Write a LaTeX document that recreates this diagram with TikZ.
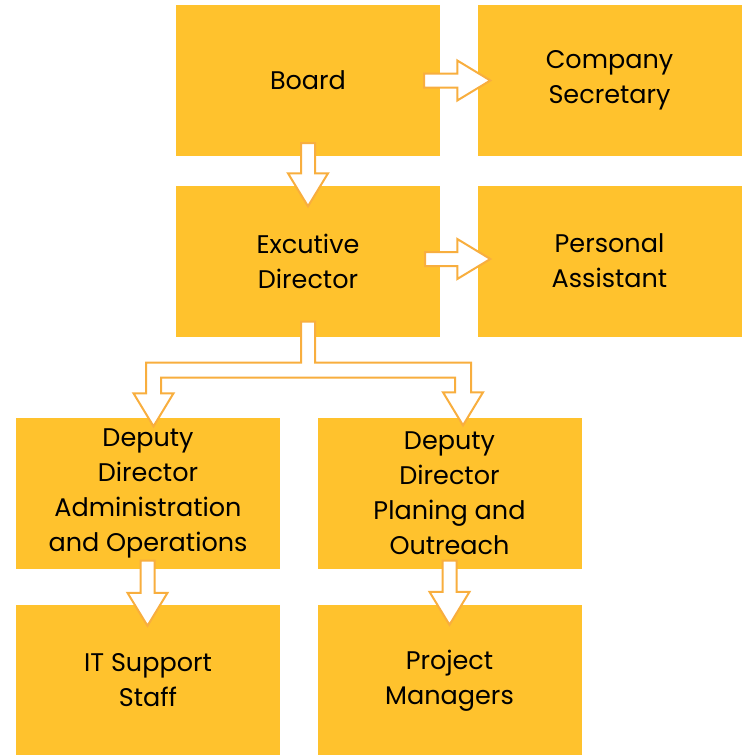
\documentclass[tikz,border=0pt]{standalone}
\usepackage{fontspec}
\setmainfont{Poppins}
\usetikzlibrary{calc}
\definecolor{boxfill}{HTML}{FFC22D}
\definecolor{arrowline}{HTML}{F8AE3E}
\tikzset{
  orgbox/.style={draw=none, fill=boxfill, minimum width=264pt, minimum height=151pt,
    inner sep=0pt, align=center, font=\fontsize{25.5}{35}\selectfont, text=black},
  blockarrowstyle/.style={draw=arrowline, fill=white, line width=2pt, line join=miter},
}
% straight block arrow between two points: shaft 14pt wide, head 40pt wide, 33pt long
\newcommand\blockarrow[2]{%
  \path[blockarrowstyle] let \p1=(#1), \p2=(#2),
    \n1={atan2(\y2-\y1,\x2-\x1)}, \n2={veclen(\x2-\x1,\y2-\y1)} in
    [shift={(\p1)}, rotate=\n1]
    (0pt,7pt) -- ({\n2-33},7pt) -- ({\n2-33},20pt) -- (\n2,0pt) --
    ({\n2-33},-20pt) -- ({\n2-33},-7pt) -- (0pt,-7pt) -- cycle;
}
\begin{document}
\begin{tikzpicture}[x=1pt, y=-1pt]
\useasboundingbox (0,0) rectangle (746,755);

% boxes
\node[orgbox] (board) at (308,80.5)   {Board};
\node[orgbox] (cs)    at (609.5,80.5) {Company\\Secretary};
\node[orgbox] (ed)    at (308,261)    {Excutive\\Director};
\node[orgbox] (pa)    at (609.5,261)  {Personal\\Assistant};
\node[orgbox] (dda)   at (148,493)    {Deputy\\Director\\Administration\\and Operations};
\node[orgbox] (ddp)   at (449.5,493)  {Deputy\\Director\\Planing and\\Outreach};
\node[orgbox] (it)    at (148,680.5)  {IT Support\\Staff};
\node[orgbox] (pm)    at (449.5,680.5){Project\\Managers};

% arrow end points
\coordinate (bcs0) at ([xshift=-16pt]board.east);
\coordinate (bcs1) at ([xshift=13pt]cs.west);
\coordinate (bed0) at ([yshift=13pt]board.south);
\coordinate (bed1) at ([yshift=-21pt]ed.north);
\coordinate (epa0) at ([xshift=-15pt,yshift=2pt]ed.east);
\coordinate (epa1) at ([xshift=13pt,yshift=2pt]pa.west);
\coordinate (dit0) at ([xshift=-0.5pt,yshift=8pt]dda.south);
\coordinate (dit1) at ([xshift=-0.5pt,yshift=-21pt]it.north);
\coordinate (dpm0) at ([yshift=8pt]ddp.south);
\coordinate (dpm1) at ([yshift=-20pt]pm.north);

\blockarrow{bcs0}{bcs1}
\blockarrow{bed0}{bed1}
\blockarrow{epa0}{epa1}
\blockarrow{dit0}{dit1}
\blockarrow{dpm0}{dpm1}

% split arrow from the director to both deputies
\path[blockarrowstyle] let \p0=([yshift=15pt]ed.south),
    \p1=([xshift=5.5pt,yshift=-9pt]dda.north),
    \p2=([xshift=13.5pt,yshift=-8pt]ddp.north) in
  (\x0-7pt,\y0) -- (\x0+7pt,\y0) -- (\x0+7pt,\y0-41pt) -- (\x2+8pt,\y0-41pt) --
  (\x2+8pt,\y2+33pt) -- (\x2+20pt,\y2+33pt) -- (\p2) -- (\x2-20pt,\y2+33pt) --
  (\x2-8pt,\y2+33pt) -- (\x2-8pt,\y0-56pt) -- (\x1+7.5pt,\y0-56pt) --
  (\x1+7.5pt,\y1+33pt) -- (\x1+20pt,\y1+33pt) -- (\p1) -- (\x1-20pt,\y1+33pt) --
  (\x1-7.5pt,\y1+33pt) -- (\x1-7.5pt,\y0-41pt) -- (\x0-7pt,\y0-41pt) -- cycle;
\end{tikzpicture}
\end{document}
